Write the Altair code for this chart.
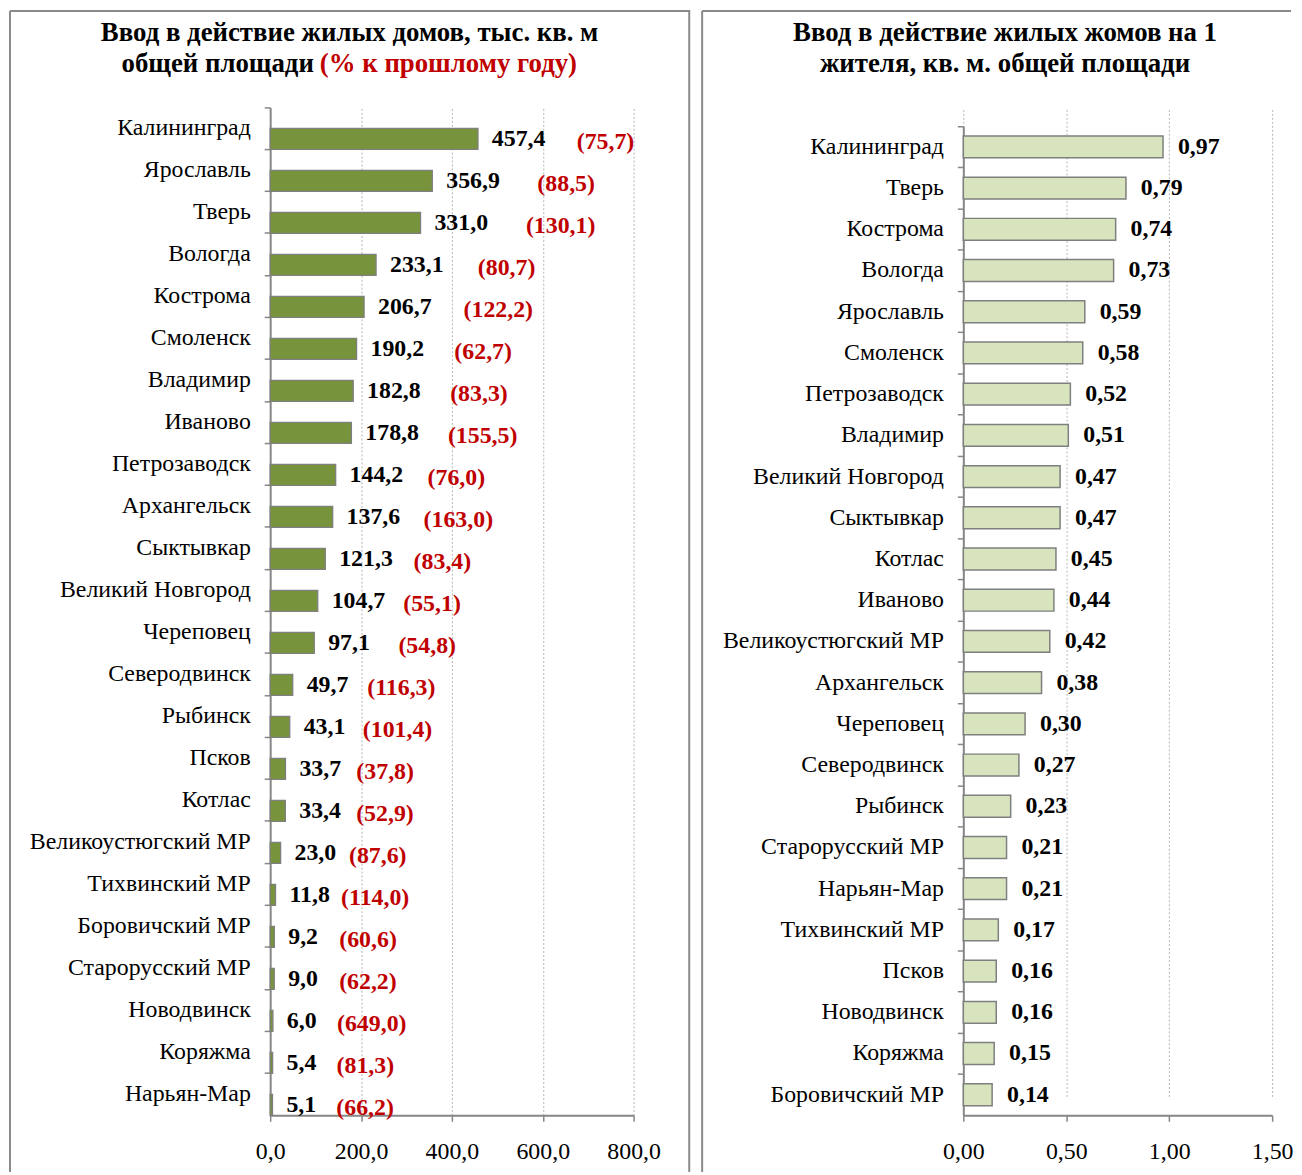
import altair as alt
import pandas as pd

# ---------------- data ----------------
cities_left = ["Калининград", "Ярославль", "Тверь", "Вологда", "Кострома", "Смоленск",
               "Владимир", "Иваново", "Петрозаводск", "Архангельск", "Сыктывкар",
               "Великий Новгород", "Череповец", "Северодвинск", "Рыбинск", "Псков",
               "Котлас", "Великоустюгский МР", "Тихвинский МР", "Боровичский МР",
               "Старорусский МР", "Новодвинск", "Коряжма", "Нарьян-Мар"]
area_values = [457.4, 356.9, 331.0, 233.1, 206.7, 190.2, 182.8, 178.8, 144.2, 137.6, 121.3,
               104.7, 97.1, 49.7, 43.1, 33.7, 33.4, 23.0, 11.8, 9.2, 9.0, 6.0, 5.4, 5.1]
pct_values = [75.7, 88.5, 130.1, 80.7, 122.2, 62.7, 83.3, 155.5, 76.0, 163.0, 83.4,
              55.1, 54.8, 116.3, 101.4, 37.8, 52.9, 87.6, 114.0, 60.6, 62.2, 649.0, 81.3, 66.2]

cities_right = ["Калининград", "Тверь", "Кострома", "Вологда", "Ярославль", "Смоленск",
                "Петрозаводск", "Владимир", "Великий Новгород", "Сыктывкар", "Котлас",
                "Иваново", "Великоустюгский МР", "Архангельск", "Череповец", "Северодвинск",
                "Рыбинск", "Старорусский МР", "Нарьян-Мар", "Тихвинский МР", "Псков",
                "Новодвинск", "Коряжма", "Боровичский МР"]
per_capita_values = [0.97, 0.79, 0.74, 0.73, 0.59, 0.58, 0.52, 0.51, 0.47, 0.47, 0.45, 0.44,
                     0.42, 0.38, 0.30, 0.27, 0.23, 0.21, 0.21, 0.17, 0.16, 0.16, 0.15, 0.14]

x_ticks_left = [0, 200, 400, 600, 800]
x_ticks_right = [0, 0.5, 1.0, 1.5]

title_left_1 = "Ввод в действие жилых домов, тыс. кв. м"
title_left_2a = "общей площади"
title_left_2b = "(% к прошлому году)"
title_right_1 = "Ввод в действие жилых жомов на 1"
title_right_2 = "жителя, кв. м. общей площади"


def fmt(v, d):
    return f"{v:.{d}f}".replace(".", ",")


df_left = pd.DataFrame({"city": cities_left, "area": area_values, "pct": pct_values})
df_left["lab"] = [fmt(v, 1) for v in area_values]
df_left["plab"] = ["(" + fmt(v, 1) + ")" for v in pct_values]

df_right = pd.DataFrame({"city": cities_right, "val": per_capita_values})
df_right["lab"] = [fmt(v, 2) for v in per_capita_values]

one = pd.DataFrame({"k": [0]})

# ---------------- style ----------------
FONT = "Liberation Serif"
GRAY = "#868686"
BORDER = "#8a8a8a"
GREEN = "#77933C"
LIGHT = "#D7E4BD"
RED = "#C00000"
FS = 24
TFS = 27

WL, H = 366, 1015
WR = 311
R_TOP = 19               # right panel plot starts lower than the left one
STEP_L = H / 24


def y_axis():
    return alt.Axis(labelFont=FONT, labelFontSize=FS, labelColor="black", labelPadding=14,
                    tickSize=6, tickColor=GRAY, tickWidth=1.5,
                    domainColor=GRAY, domainWidth=2, bandPosition=0, labelLimit=400)


def x_axis(values, fmt_str):
    return alt.Axis(values=values, labelExpr=f"replace(format(datum.value, '{fmt_str}'), '.', ',')",
                    grid=True, gridDash=[2, 2], gridColor="#b3b3b3", gridWidth=1,
                    labelFont=FONT, labelFontSize=FS, labelColor="black", labelPadding=18,
                    tickSize=6, tickColor=GRAY, tickWidth=1.5, domainColor=GRAY, domainWidth=2,
                    labelFlush=False)


def rule(x, y, x2=None, y2=None):
    enc = {"x": alt.value(x), "y": alt.value(y)}
    if x2 is not None:
        enc["x2"] = alt.value(x2)
    if y2 is not None:
        enc["y2"] = alt.value(y2)
    return alt.Chart(one).mark_rule(color=BORDER, strokeWidth=2).encode(**enc)


def text(x, y, s, align="center", color="black"):
    return alt.Chart(one).mark_text(align=align, baseline="alphabetic", font=FONT, fontSize=TFS,
                                    fontWeight="bold", color=color).encode(
        x=alt.value(x), y=alt.value(y), text=alt.value(s))


TOP = -97       # panel frame top (relative to plot top)
BOTTOM = 1072   # frame lines run down past the bottom of the page

# ---------------- left panel ----------------
yL = alt.Y("city:N", sort=cities_left, title=None,
           scale=alt.Scale(paddingInner=0, paddingOuter=0), axis=y_axis())
xL = alt.X("area:Q", title=None, scale=alt.Scale(domain=[0, 800], nice=False),
           axis=x_axis(x_ticks_left, ".1f"))

baseL = alt.Chart(df_left)
barsL = baseL.mark_bar(size=21, yOffset=STEP_L / 4, color=GREEN, stroke="#7f7f7f",
                       strokeWidth=1.3).encode(x=xL, y=yL)
valsL = baseL.mark_text(align="left", baseline="middle", dx=14, yOffset=STEP_L / 4,
                        font=FONT, fontSize=FS, fontWeight="bold", color="black").encode(
    x="area:Q", y=alt.Y("city:N", sort=cities_left), text="lab:N")
# the red "% to last year" labels sit further right of longer bars
pctL = baseL.transform_calculate(
    rx="137.7 + 1.574 * datum.area - 0.000874 * datum.area * datum.area").mark_text(
    align="left", baseline="middle", yOffset=STEP_L / 4 + 3,
    font=FONT, fontSize=FS, fontWeight="bold", color=RED).encode(
    x="rx:Q", y=alt.Y("city:N", sort=cities_left), text="plab:N")

frameL = [rule(-262, TOP, x2=423), rule(-262, TOP, y2=BOTTOM), rule(422, TOP, y2=BOTTOM)]
titlesL = [text(80, -67, title_left_1),
           text(44, -36, title_left_2a, align="right"),
           text(50, -36, title_left_2b, align="left", color=RED)]

left = alt.layer(*frameL, barsL, valsL, pctL, *titlesL).properties(width=WL, height=H)

# ---------------- right panel ----------------
yR = alt.Y("city:N", sort=cities_right, title=None,
           scale=alt.Scale(paddingInner=0, paddingOuter=0, range=[R_TOP, H]), axis=y_axis())
xR = alt.X("val:Q", title=None, scale=alt.Scale(domain=[0, 1.5], nice=False),
           axis=x_axis(x_ticks_right, ".2f"))

baseR = alt.Chart(df_right)
barsR = baseR.mark_bar(size=22, color=LIGHT, stroke="#7f7f7f", strokeWidth=1.5).encode(x=xR, y=yR)
valsR = baseR.mark_text(align="left", baseline="middle", dx=15, font=FONT, fontSize=FS,
                        fontWeight="bold", color="black").encode(
    x="val:Q", y=alt.Y("city:N", sort=cities_right), text="lab:N")

frameR = [rule(-263, TOP, x2=330), rule(-263, TOP, y2=BOTTOM)]
titlesR = [text(42, -67, title_right_1), text(42, -36, title_right_2)]

right = alt.layer(*frameR, barsR, valsR, *titlesR).properties(width=WR, height=H)

chart = alt.hconcat(left, right, spacing=8).configure(
    padding={"left": 0, "top": -3, "right": 0, "bottom": 0}
).configure_view(stroke="transparent")

chart.save("out.html", embed_options={"renderer": "svg", "actions": False})
